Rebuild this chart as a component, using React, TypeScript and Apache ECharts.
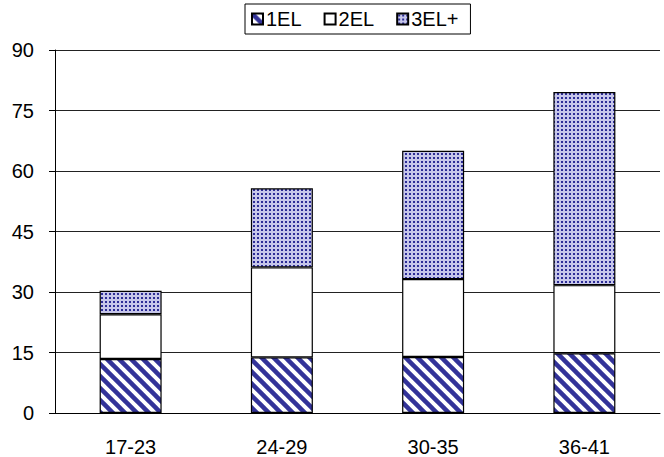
import React, { useEffect, useRef } from "react";
import * as echarts from "echarts";

const categories = ["17-23", "24-29", "30-35", "36-41"];
const el1 = [13.4, 13.8, 13.9, 14.8];
const el2 = [11.1, 22.3, 19.3, 16.9];
const el3 = [5.8, 19.6, 31.8, 47.9];
const seriesNames = ["1EL", "2EL", "3EL+"];

const NAVY = "#333399";

function stripePattern(): HTMLCanvasElement {
  const T = 12;
  const c = document.createElement("canvas");
  c.width = T;
  c.height = T;
  const ctx = c.getContext("2d")!;
  ctx.fillStyle = "#ffffff";
  ctx.fillRect(0, 0, T, T);
  ctx.strokeStyle = NAVY;
  ctx.lineWidth = 4.5;
  for (let k = -2; k <= 2; k++) {
    ctx.beginPath();
    ctx.moveTo(-T, -T + k * T);
    ctx.lineTo(2 * T, 2 * T + k * T);
    ctx.stroke();
  }
  return c;
}

function dotPattern(): HTMLCanvasElement {
  const T = 4;
  const c = document.createElement("canvas");
  c.width = T;
  c.height = T;
  const ctx = c.getContext("2d")!;
  ctx.fillStyle = "#c6c6ea";
  ctx.fillRect(0, 0, T, T);
  ctx.fillStyle = "#2c2c96";
  ctx.fillRect(1, 1, 2, 2);
  return c;
}

export default function App() {
  const ref = useRef<HTMLDivElement>(null);
  useEffect(() => {
    if (!ref.current) return;
    const chart = echarts.init(ref.current, undefined, { renderer: "svg" });
    const font = "'Liberation Sans', Arial, sans-serif";
    const fills: any[] = [
      { image: stripePattern(), repeat: "repeat" },
      "#ffffff",
      { image: dotPattern(), repeat: "repeat" },
    ];
    const datas = [el1, el2, el3];
    chart.setOption({
      animation: false,
      backgroundColor: "#ffffff",
      textStyle: { fontFamily: font, color: "#000" },
      legend: {
        left: 245,
        top: 4,
        orient: "horizontal",
        data: seriesNames,
        icon: "rect",
        itemWidth: 11,
        itemHeight: 11,
        itemGap: 22,
        padding: [5, 12, 5, 6],
        borderColor: "#000",
        borderWidth: 1,
        textStyle: { fontFamily: font, fontSize: 20, color: "#000", padding: [0, 0, 0, -2] },
      },
      grid: { left: 55, right: 4, top: 50, bottom: 44 },
      xAxis: {
        type: "category",
        data: categories,
        axisLine: { lineStyle: { color: "#000", width: 1 } },
        axisTick: { show: false },
        axisLabel: { fontFamily: font, fontSize: 20, color: "#000", margin: 24 },
      },
      yAxis: {
        type: "value",
        min: 0,
        max: 90,
        interval: 15,
        axisLine: { show: true, lineStyle: { color: "#000", width: 1 } },
        axisTick: { show: true, length: 6, lineStyle: { color: "#000" } },
        axisLabel: {
          fontFamily: font,
          fontSize: 20,
          color: "#000",
          margin: 21,
          padding: [0, 0, 8, 0],
        },
        splitLine: { show: true, lineStyle: { color: "#222", width: 1 } },
      },
      series: seriesNames.map((name, i) => ({
        name,
        type: "bar",
        stack: "total",
        data: datas[i],
        barWidth: 62,
        itemStyle: { color: fills[i], borderColor: "#000", borderWidth: 1.2 },
      })),
    });
    return () => chart.dispose();
  }, []);
  return (
    <div
      ref={ref}
      style={{ position: "absolute", left: 0, top: 0, width: 664, height: 457 }}
    />
  );
}
